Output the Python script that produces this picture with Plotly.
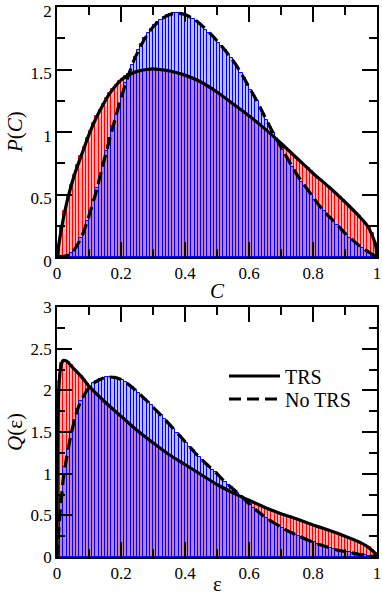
import plotly.graph_objects as go

# ---------------- data ----------------
BIN_WIDTH = 0.01
BIN_CENTERS = [round(0.005 + 0.01 * i, 3) for i in range(100)]

# Top panel: concurrence distribution P(C), histograms
P_TRS_HIST = [0.09, 0.24, 0.37, 0.48, 0.575, 0.66, 0.735, 0.805, 0.88, 0.95,
              1.01, 1.07, 1.125, 1.175, 1.225, 1.27, 1.31, 1.345, 1.375, 1.405,
              1.425, 1.445, 1.46, 1.47, 1.48, 1.49, 1.495, 1.50, 1.50, 1.505,
              1.505, 1.50, 1.50, 1.495, 1.49, 1.485, 1.48, 1.475, 1.47, 1.46,
              1.45, 1.44, 1.43, 1.42, 1.405, 1.39, 1.375, 1.36, 1.345, 1.33,
              1.31, 1.29, 1.27, 1.25, 1.235, 1.215, 1.195, 1.175, 1.155, 1.135,
              1.12, 1.10, 1.08, 1.06, 1.035, 1.015, 0.99, 0.965, 0.94, 0.92,
              0.895, 0.87, 0.85, 0.825, 0.80, 0.78, 0.755, 0.73, 0.71, 0.685,
              0.66, 0.64, 0.615, 0.595, 0.57, 0.55, 0.525, 0.50, 0.48, 0.455,
              0.43, 0.405, 0.38, 0.355, 0.33, 0.30, 0.27, 0.235, 0.19, 0.11]

P_NT_HIST = [0.0, 0.003, 0.008, 0.015, 0.03, 0.06, 0.10, 0.15, 0.21, 0.29,
             0.37, 0.455, 0.55, 0.65, 0.75, 0.85, 0.95, 1.045, 1.135, 1.225,
             1.31, 1.39, 1.465, 1.535, 1.60, 1.655, 1.705, 1.75, 1.79, 1.825,
             1.855, 1.88, 1.90, 1.92, 1.935, 1.945, 1.95, 1.95, 1.95, 1.945,
             1.935, 1.92, 1.905, 1.89, 1.87, 1.845, 1.82, 1.795, 1.77, 1.74,
             1.715, 1.685, 1.655, 1.62, 1.59, 1.55, 1.515, 1.47, 1.43, 1.385,
             1.34, 1.295, 1.245, 1.195, 1.145, 1.095, 1.045, 0.995, 0.945, 0.90,
             0.855, 0.81, 0.765, 0.72, 0.68, 0.64, 0.60, 0.565, 0.53, 0.495,
             0.46, 0.425, 0.395, 0.365, 0.335, 0.31, 0.285, 0.26, 0.23, 0.205,
             0.18, 0.155, 0.135, 0.11, 0.09, 0.07, 0.05, 0.035, 0.02, 0.008]

# Top panel: theory curves
C_TRS_CURVE = [0, 0.005, 0.01, 0.02, 0.03, 0.04, 0.05, 0.06, 0.08, 0.10, 0.12, 0.14,
               0.16, 0.18, 0.20, 0.22, 0.25, 0.28, 0.30, 0.32, 0.35, 0.40, 0.45, 0.50,
               0.55, 0.60, 0.65, 0.70, 0.75, 0.80, 0.85, 0.90, 0.95, 0.97, 0.99, 0.997, 1.0]
P_TRS_CURVE = [0, 0.09, 0.17, 0.31, 0.43, 0.53, 0.62, 0.70, 0.84, 0.98, 1.10, 1.20,
               1.29, 1.36, 1.415, 1.45, 1.485, 1.50, 1.505, 1.50, 1.49, 1.455, 1.40, 1.32,
               1.225, 1.13, 1.025, 0.91, 0.79, 0.67, 0.56, 0.44, 0.31, 0.25, 0.14, 0.08, 0]

C_NT_CURVE = [0, 0.02, 0.04, 0.06, 0.08, 0.10, 0.12, 0.14, 0.16, 0.18, 0.20, 0.22, 0.24,
              0.26, 0.28, 0.30, 0.32, 0.34, 0.36, 0.38, 0.40, 0.42, 0.44, 0.46, 0.48, 0.50,
              0.52, 0.54, 0.56, 0.58, 0.60, 0.62, 0.64, 0.66, 0.68, 0.70, 0.72, 0.74, 0.76,
              0.78, 0.80, 0.82, 0.84, 0.86, 0.88, 0.90, 0.92, 0.94, 0.96, 0.98, 1.0]
P_NT_CURVE = [0, 0.005, 0.02, 0.08, 0.18, 0.33, 0.50, 0.70, 0.90, 1.09, 1.27, 1.43, 1.57,
              1.68, 1.77, 1.84, 1.89, 1.925, 1.945, 1.95, 1.94, 1.915, 1.88, 1.835, 1.785, 1.73,
              1.67, 1.605, 1.535, 1.45, 1.36, 1.27, 1.17, 1.07, 0.97, 0.88, 0.79, 0.70, 0.62,
              0.55, 0.48, 0.41, 0.35, 0.30, 0.245, 0.19, 0.145, 0.10, 0.065, 0.03, 0]

# Bottom panel: Q(eps), histograms
Q_TRS_HIST = [2.10, 2.33, 2.355, 2.34, 2.30, 2.25, 2.21, 2.17, 2.12, 2.075,
              2.03, 1.99, 1.95, 1.915, 1.88, 1.845, 1.81, 1.775, 1.74, 1.705,
              1.67, 1.635, 1.60, 1.57, 1.535, 1.505, 1.475, 1.445, 1.415, 1.385,
              1.355, 1.325, 1.30, 1.27, 1.245, 1.215, 1.19, 1.165, 1.14, 1.12,
              1.10, 1.075, 1.05, 1.025, 1.00, 0.975, 0.95, 0.925, 0.90, 0.88,
              0.86, 0.84, 0.82, 0.80, 0.78, 0.76, 0.74, 0.72, 0.70, 0.685,
              0.672, 0.655, 0.638, 0.621, 0.604, 0.588, 0.573, 0.558, 0.543, 0.528,
              0.513, 0.50, 0.487, 0.474, 0.461, 0.448, 0.434, 0.42, 0.406, 0.392,
              0.378, 0.365, 0.352, 0.339, 0.326, 0.313, 0.299, 0.285, 0.271, 0.257,
              0.242, 0.226, 0.21, 0.194, 0.178, 0.16, 0.14, 0.115, 0.088, 0.048]

Q_NT_HIST = [0.30, 0.75, 1.08, 1.30, 1.49, 1.65, 1.78, 1.87, 1.94, 2.00,
             2.045, 2.085, 2.115, 2.135, 2.15, 2.16, 2.16, 2.16, 2.15, 2.14,
             2.12, 2.095, 2.065, 2.035, 2.005, 1.97, 1.93, 1.895, 1.855, 1.82,
             1.78, 1.74, 1.70, 1.66, 1.62, 1.575, 1.535, 1.49, 1.45, 1.405,
             1.365, 1.32, 1.28, 1.235, 1.195, 1.16, 1.12, 1.085, 1.05, 1.015,
             0.98, 0.94, 0.905, 0.87, 0.835, 0.80, 0.77, 0.735, 0.70, 0.66,
             0.62, 0.585, 0.555, 0.525, 0.495, 0.465, 0.44, 0.415, 0.395, 0.37,
             0.35, 0.325, 0.305, 0.29, 0.27, 0.255, 0.235, 0.22, 0.205, 0.19,
             0.175, 0.16, 0.145, 0.13, 0.12, 0.11, 0.095, 0.085, 0.078, 0.07,
             0.062, 0.055, 0.048, 0.04, 0.034, 0.028, 0.022, 0.016, 0.01, 0.005]

# Bottom panel: theory curves
E_TRS_CURVE = [0, 0.001, 0.003, 0.006, 0.01, 0.015, 0.02, 0.03, 0.05, 0.075, 0.10, 0.15,
               0.20, 0.25, 0.30, 0.35, 0.40, 0.45, 0.50, 0.55, 0.60, 0.65, 0.70, 0.75,
               0.80, 0.85, 0.90, 0.95, 0.97, 0.99, 0.997, 1.0]
Q_TRS_CURVE = [0, 1.0, 1.7, 2.05, 2.24, 2.33, 2.36, 2.35, 2.27, 2.17, 2.05, 1.86,
               1.69, 1.52, 1.37, 1.23, 1.11, 0.99, 0.87, 0.77, 0.68, 0.595, 0.52, 0.455,
               0.385, 0.32, 0.25, 0.17, 0.125, 0.06, 0.03, 0]

E_NT_CURVE = [0, 0.005, 0.01, 0.015, 0.02, 0.03, 0.04, 0.05, 0.06, 0.07, 0.08,
              0.10, 0.12, 0.14, 0.16, 0.18, 0.20, 0.22, 0.24, 0.26, 0.28, 0.30, 0.32, 0.34,
              0.36, 0.38, 0.40, 0.42, 0.44, 0.46, 0.48, 0.50, 0.52, 0.54, 0.56, 0.58, 0.60,
              0.62, 0.64, 0.66, 0.68, 0.70, 0.72, 0.74, 0.76, 0.78, 0.80, 0.82, 0.84, 0.86,
              0.88, 0.90, 0.92, 0.94, 0.96, 0.98, 1.0]
Q_NT_CURVE = [0, 0.30, 0.55, 0.75, 0.95, 1.19, 1.40, 1.57, 1.72, 1.83, 1.91,
              2.03, 2.10, 2.14, 2.16, 2.155, 2.13, 2.08, 2.02, 1.95, 1.875, 1.80, 1.72, 1.64,
              1.555, 1.47, 1.385, 1.30, 1.215, 1.14, 1.07, 1.0, 0.92, 0.85, 0.785, 0.715, 0.64,
              0.57, 0.51, 0.455, 0.405, 0.36, 0.315, 0.28, 0.245, 0.21, 0.18, 0.15, 0.125, 0.10,
              0.08, 0.065, 0.05, 0.035, 0.025, 0.012, 0]

LEGEND_NAMES = ["TRS", "No TRS"]

# ---------------- styling ----------------
FONT = "Liberation Serif, Times New Roman, serif"
RED_LINE, RED_FILL = "#ff0000", "rgba(255,0,0,0.32)"
BLUE_LINE, BLUE_FILL = "#0000ff", "rgba(0,0,255,0.25)"
DASH = "12px,6px"

fig = go.Figure()


def add_hist(y, xa, ya, line_color, fill):
    fig.add_trace(go.Bar(x=BIN_CENTERS, y=y, width=BIN_WIDTH, xaxis=xa, yaxis=ya,
                         marker=dict(color=fill, line=dict(color=line_color, width=1)),
                         showlegend=False, hoverinfo="skip"))


def add_curve(x, y, xa, ya, dash, name, show, legend="legend"):
    fig.add_trace(go.Scatter(x=x, y=y, mode="lines", xaxis=xa, yaxis=ya, name=name,
                             line=dict(color="black", width=3.2, dash=dash, shape="spline",
                                       smoothing=0.6),
                             showlegend=show, legend=legend, hoverinfo="skip"))


add_hist(P_TRS_HIST, "x", "y", RED_LINE, RED_FILL)
add_hist(P_NT_HIST, "x", "y", BLUE_LINE, BLUE_FILL)
add_curve(C_TRS_CURVE, P_TRS_CURVE, "x", "y", "solid", LEGEND_NAMES[0], False)
add_curve(C_NT_CURVE, P_NT_CURVE, "x", "y", DASH, LEGEND_NAMES[1], False)

add_hist(Q_TRS_HIST, "x2", "y2", RED_LINE, RED_FILL)
add_hist(Q_NT_HIST, "x2", "y2", BLUE_LINE, BLUE_FILL)
add_curve(E_TRS_CURVE, Q_TRS_CURVE, "x2", "y2", "solid", LEGEND_NAMES[0], True, "legend")
add_curve(E_NT_CURVE, Q_NT_CURVE, "x2", "y2", DASH, LEGEND_NAMES[1], True, "legend2")

W, H = 382, 599
ML, MR, MT, MB = 57, 5, 7, 42
PH = H - MT - MB


def py(pix):  # pixel row -> paper y
    return (H - MB - pix) / PH


def px(pix):  # pixel column -> paper x
    return (pix - ML) / (W - ML - MR)


def axis_common(**kw):
    d = dict(showline=True, linecolor="black", linewidth=1.5, mirror="allticks",
             ticks="inside", ticklen=15, tickwidth=1.5, tickcolor="black",
             showgrid=False, zeroline=False, automargin=False,
             ticklabeloverflow="allow",
             tickfont=dict(family=FONT, size=17, color="black"),
             minor=dict(ticks="inside", ticklen=8, tickwidth=1.5, tickcolor="black",
                        showgrid=False))
    d.update(kw)
    return d


def legend_box(ycenter):
    return dict(x=px(224), y=py(ycenter), xanchor="left", yanchor="middle",
                bgcolor="rgba(0,0,0,0)", borderwidth=0,
                font=dict(family=FONT, size=20, color="black"), itemwidth=51)


fig.update_layout(
    width=W, height=H,
    margin=dict(l=ML, r=MR, t=MT, b=MB, autoexpand=False),
    paper_bgcolor="white", plot_bgcolor="white",
    barmode="overlay", bargap=0,
    font=dict(family=FONT, color="black"),
    xaxis=axis_common(domain=[0, 1], anchor="y", range=[0, 1], tick0=0, dtick=0.2,
                      minor_dtick=0.1),
    yaxis=axis_common(domain=[py(257), 1], anchor="x", range=[0, 2], tick0=0, dtick=0.5,
                      minor_dtick=0.25, ticklabelshift=4),
    xaxis2=axis_common(domain=[0, 1], anchor="y2", range=[0, 1], tick0=0, dtick=0.2,
                       minor_dtick=0.1),
    yaxis2=axis_common(domain=[0, py(307)], anchor="x2", range=[0, 3], tick0=0, dtick=0.5,
                       minor_dtick=0.25),
    legend=legend_box(376),
    legend2=legend_box(399),
    annotations=[
        dict(text="<i>P</i>(<i>C</i>)", xref="paper", yref="paper", x=px(15), y=py(132),
             xanchor="center", yanchor="middle",
             textangle=-90, showarrow=False, font=dict(family=FONT, size=21)),
        dict(text="<i>C</i>", xref="paper", yref="paper", x=px(217), y=py(291),
             xanchor="center", yanchor="middle",
             showarrow=False, font=dict(family=FONT, size=21)),
        dict(text="<i>Q</i>(ε)", xref="paper", yref="paper", x=px(15), y=py(432),
             xanchor="center", yanchor="middle",
             textangle=-90, showarrow=False, font=dict(family=FONT, size=21)),
        dict(text="ε", xref="paper", yref="paper", x=px(217), y=py(584),
             xanchor="center", yanchor="middle",
             showarrow=False, font=dict(family=FONT, size=21)),
    ],
)

fig.write_html("out.html", config={"displayModeBar": False},
               post_script="document.body.style.margin='0';document.body.style.padding='0';")
